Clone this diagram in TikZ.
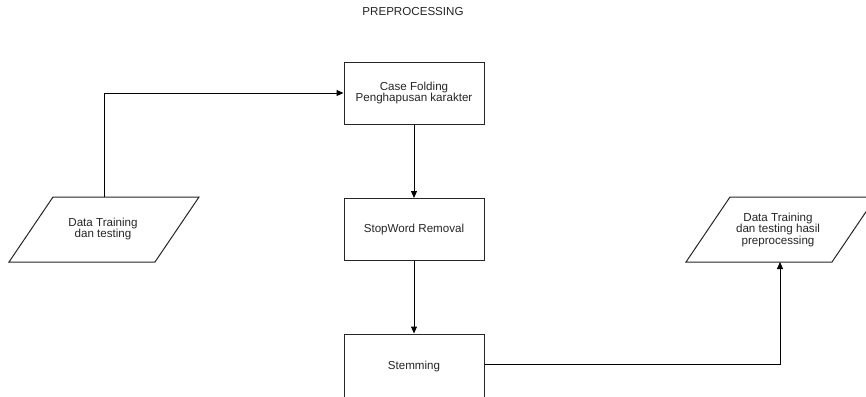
\documentclass[tikz,border=0pt]{standalone}
\usepackage{fontspec}
\setmainfont{Liberation Sans}
\usetikzlibrary{arrows.meta}
\begin{document}
\begin{tikzpicture}[x=1pt,y=-1pt,
  every node/.style={font=\fontsize{11.6}{11.5}\selectfont, text=black!85},
  procbox/.style={draw=black!85, line width=1pt, minimum width=140pt, minimum height=62pt, inner sep=0pt, align=center},
  io/.style={draw=black!85, line width=1pt},
  lbl/.style={align=center, inner sep=0pt},
  arr/.style={draw=black, line width=1pt, -{Triangle[length=7pt,width=6pt]}}]
\useasboundingbox (0,0) rectangle (866,396);
\fill[white] (0,0) rectangle (866,396);
% title
\node[lbl] (title) at (413,12) {PREPROCESSING};
% process boxes
\node[procbox] (b1) at (414,93) {Case Folding\\Penghapusan karakter};
\node[procbox] (b2) at (414,229.5) {StopWord Removal};
\node[procbox, minimum height=64pt] (b3) at (414,366) {\raisebox{0pt}{Stemming}};
% left parallelogram
\draw[io] (9,262) -- (155,262) -- (199,197) -- (53,197) -- cycle;
\node[lbl] (lin) at (103,229) {Data Training\\dan testing};
\coordinate (lintop) at (104,197);
% right parallelogram
\draw[io] (686,262) -- (832,262) -- (876,197) -- (730,197) -- cycle;
\node[lbl] (rout) at (778,229.5) {Data Training\\dan testing hasil\\preprocessing};
\coordinate (routbot) at (780,262);
% connectors
\draw[arr] (lintop) |- (b1.west);
\draw[arr] (b1.south) -- (b2.north);
\draw[arr] (b2.south) -- (b3.north);
\draw[arr] (b3.east |- 0,364) -| (routbot);
\end{tikzpicture}
\end{document}
